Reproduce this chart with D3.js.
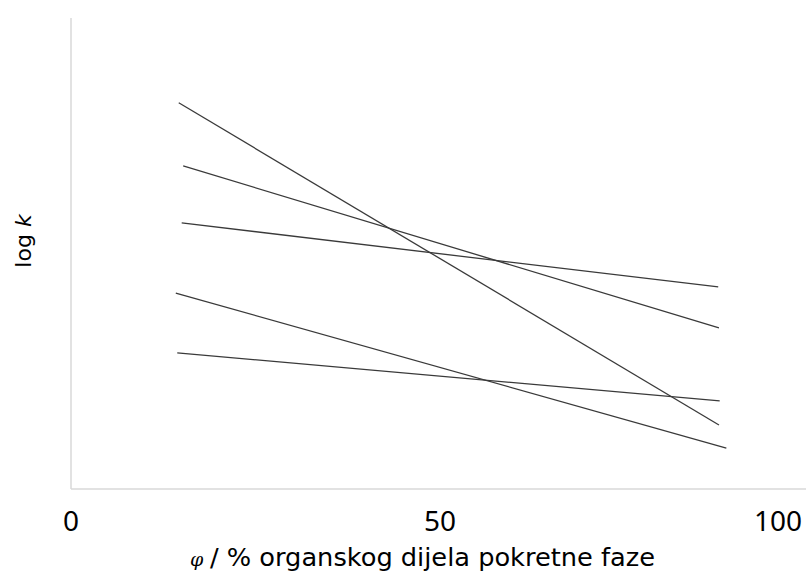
<!DOCTYPE html>
<html>
<head>
<meta charset="utf-8">
<script src="https://cdn.jsdelivr.net/npm/d3@7"></script>
<style>
  body { margin: 0; background: #fff; }
  svg { display: block; }
  text { font-family: "Noto Sans", "DejaVu Sans", sans-serif; fill: #000; }
</style>
</head>
<body>
<svg id="chart" width="806" height="574"></svg>
<script>
const width = 806;
const height = 574;

// line endpoints (y is unitless log k)
const lineNames = ['A', 'B', 'C', 'D', 'E'];
const xStart = [14.6, 15.2, 15.0, 14.2, 14.4];
const yStart = [8.20, 6.86, 5.65, 4.16, 2.89];
const xEnd = [87.8, 87.8, 87.7, 88.8, 87.9];
const yEnd = [1.36, 3.42, 4.29, 0.87, 1.87];
const xTicks = [0, 50, 100];

const svg = d3.select('#chart');

const x = d3.scaleLinear().domain([0, 100]).range([71, 809]);
const y = d3.scaleLinear().domain([0, 10]).range([489, 18]);

// Axis lines
svg.append('line')
    .attr('x1', x(0)).attr('x2', width)
    .attr('y1', y(0)).attr('y2', y(0))
    .attr('stroke', '#d9d9d9').attr('stroke-width', 1.5);

svg.append('line')
    .attr('x1', x(0)).attr('x2', x(0))
    .attr('y1', y(0)).attr('y2', y(10))
    .attr('stroke', '#d9d9d9').attr('stroke-width', 1.5);

// Tick labels
svg.selectAll('.tick-label')
    .data(xTicks)
    .enter().append('text')
    .classed('tick-label', true)
    .attr('x', d => d === 100 ? 802 : x(d))
    .attr('y', 531)
    .attr('text-anchor', d => d === 100 ? 'end' : 'middle')
    .style('font-size', '28px')
    .text(d => d);

// Lines
const lines = lineNames.map((n, i) => ({
    name: n,
    pts: [[xStart[i], yStart[i]], [xEnd[i], yEnd[i]]]
}));

const lineGen = d3.line().x(d => x(d[0])).y(d => y(d[1]));

svg.selectAll('.series')
    .data(lines)
    .enter().append('path')
    .classed('series', true)
    .attr('d', d => lineGen(d.pts))
    .attr('fill', 'none')
    .attr('stroke', '#3a3a3a')
    .attr('stroke-width', 1.3);

// X axis title
const xTitle = svg.append('text')
    .attr('x', 190)
    .attr('y', 566);
xTitle.append('tspan')
    .style('font-family', '"DejaVu Serif", serif')
    .style('font-style', 'italic')
    .style('font-size', '19px')
    .text('φ');
xTitle.append('tspan')
    .attr('x', 210)
    .style('font-family', '"DejaVu Sans", sans-serif')
    .style('font-size', '24px')
    .attr('textLength', 445)
    .attr('lengthAdjust', 'spacingAndGlyphs')
    .text('/ % organskog dijela pokretne faze');

// Y axis title
const yTitle = svg.append('text')
    .attr('transform', 'translate(31,241) rotate(-90)')
    .attr('text-anchor', 'middle')
    .style('font-family', '"DejaVu Sans", sans-serif')
    .style('font-size', '22px');
yTitle.append('tspan').text('log ');
yTitle.append('tspan').style('font-style', 'italic').text('k');
</script>
</body>
</html>
